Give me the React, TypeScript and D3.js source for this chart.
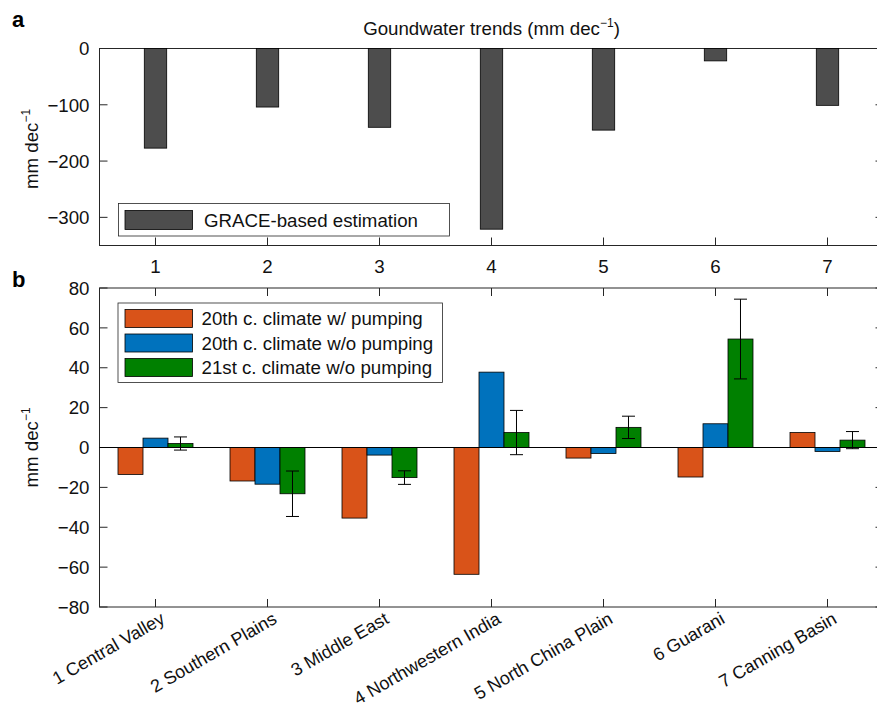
import React, { useEffect, useRef } from 'react'
import * as d3 from 'd3'

const regionIds = [1, 2, 3, 4, 5, 6, 7]
const regionNames = [
  '1 Central Valley',
  '2 Southern Plains',
  '3 Middle East',
  '4 Northwestern India',
  '5 North China Plain',
  '6 Guarani',
  '7 Canning Basin',
]
const graceTrend = [-177, -104, -140, -321, -145, -22, -101]
const pumping20th = [-13.5, -16.8, -35.4, -63.6, -5.3, -14.8, 7.5]
const noPumping20th = [4.7, -18.4, -3.8, 37.8, -3.0, 11.9, -2.0]
const noPumping21st = [2.0, -23.2, -15.1, 7.5, 10.1, 54.4, 3.7]
const noPumping21stErr = [3.3, 11.4, 3.4, 11.1, 5.6, 20.0, 4.3]
const topTicks = [0, -100, -200, -300]
const bottomTicks = [80, 60, 40, 20, 0, -20, -40, -60, -80]
const seriesNames = ['20th c. climate w/ pumping', '20th c. climate w/o pumping', '21st c. climate w/o pumping']
const seriesColors = ['#D95319', '#0072BD', '#008000']

const FONT = '"Liberation Sans", Arial, Helvetica, sans-serif'
const FS = 18.7
const AXIS = '#262626'

const App = () => {
  const ref = useRef<SVGSVGElement>(null)

  useEffect(() => {
    const svg = d3.select(ref.current)
    svg.selectAll('*').remove()

    const left = 99.5
    const right = 883.5
    const x = d3.scaleLinear().domain([0.5, 7.5]).range([left, right])

    // axes box, inward ticks, y tick labels (drawn under the bars, like matlab)
    const frame = (g, yTop, yBot, ticksY, yScale) => {
      g.append('rect')
        .attr('x', left)
        .attr('y', yTop)
        .attr('width', right - left)
        .attr('height', yBot - yTop)
        .attr('fill', 'none')
        .attr('stroke', AXIS)
        .attr('stroke-width', 1)
      regionIds.forEach((r) => {
        g.append('line').attr('x1', x(r)).attr('x2', x(r)).attr('y1', yBot).attr('y2', yBot - 8).attr('stroke', AXIS)
        g.append('line').attr('x1', x(r)).attr('x2', x(r)).attr('y1', yTop).attr('y2', yTop + 8).attr('stroke', AXIS)
      })
      ticksY.forEach((t) => {
        g.append('line').attr('x1', left).attr('x2', left + 8).attr('y1', yScale(t)).attr('y2', yScale(t)).attr('stroke', AXIS)
        g.append('line').attr('x1', right).attr('x2', right - 8).attr('y1', yScale(t)).attr('y2', yScale(t)).attr('stroke', AXIS)
        g.append('text')
          .attr('x', left - 10)
          .attr('y', yScale(t))
          .attr('dy', '0.36em')
          .attr('text-anchor', 'end')
          .attr('font-family', FONT)
          .attr('font-size', FS)
          .attr('fill', '#111')
          .text(t < 0 ? '\u2212' + Math.abs(t) : String(t))
      })
    }

    const yLabel = (cy) => {
      const t = svg.append('text')
        .attr('transform', `translate(37.5,${cy}) rotate(-90)`)
        .attr('text-anchor', 'middle')
        .attr('font-family', FONT)
        .attr('font-size', FS)
        .attr('fill', '#111')
      t.append('tspan').text('mm dec')
      t.append('tspan').attr('font-size', 12).attr('dy', -8).text('\u22121')
    }

    // ---------- panel a ----------
    const yA = d3.scaleLinear().domain([-350, 0]).range([245.5, 48.5])
    const a = svg.append('g')

    frame(a, 48.5, 245.5, topTicks, yA)

    a.selectAll('rect.grace')
      .data(graceTrend)
      .enter()
      .append('rect')
      .attr('x', (d, i) => x(regionIds[i] - 0.1))
      .attr('width', x(1.1) - x(0.9))
      .attr('y', yA(0))
      .attr('height', (d) => yA(d) - yA(0))
      .attr('fill', '#4D4D4D')
      .attr('stroke', '#000')
      .attr('stroke-width', 0.8)

    regionIds.forEach((r) => {
      a.append('text')
        .attr('x', x(r))
        .attr('y', 272.5)
        .attr('text-anchor', 'middle')
        .attr('font-family', FONT)
        .attr('font-size', FS)
        .attr('fill', '#111')
        .text(String(r))
    })

    // legend a
    a.append('rect').attr('x', 118.5).attr('y', 203.5).attr('width', 331).attr('height', 32.5)
      .attr('fill', '#fff').attr('stroke', AXIS).attr('stroke-width', 0.8)
    a.append('rect').attr('x', 125).attr('y', 210.5).attr('width', 67.5).attr('height', 19)
      .attr('fill', '#4D4D4D').attr('stroke', '#000').attr('stroke-width', 0.8)
    a.append('text').attr('x', 204).attr('y', 226.5).attr('font-family', FONT).attr('font-size', FS)
      .attr('fill', '#111').text('GRACE-based estimation')

    // title
    const title = a.append('text').attr('x', 491.5).attr('y', 35).attr('text-anchor', 'middle')
      .attr('font-family', FONT).attr('font-size', FS).attr('fill', '#111')
    title.append('tspan').text('Goundwater trends (mm dec')
    title.append('tspan').attr('font-size', 12).attr('dy', -8).text('\u22121')
    title.append('tspan').attr('dy', 8).text(')')

    yLabel(149)

    svg.append('text').attr('x', 12).attr('y', 27).attr('font-family', FONT).attr('font-weight', 'bold')
      .attr('font-size', 22).attr('fill', '#000').text('a')

    // ---------- panel b ----------
    const yB = d3.scaleLinear().domain([-80, 80]).range([607, 288])
    const b = svg.append('g')
    const series = [pumping20th, noPumping20th, noPumping21st]
    const bw = 0.2232

    frame(b, 288, 607, bottomTicks, yB)

    series.forEach((vals, s) => {
      b.selectAll(`rect.s${s}`)
        .data(vals)
        .enter()
        .append('rect')
        .attr('x', (d, i) => x(regionIds[i] + (s - 1) * bw - bw / 2))
        .attr('width', x(0.5 + bw) - x(0.5))
        .attr('y', (d) => yB(Math.max(0, d)))
        .attr('height', (d) => Math.abs(yB(d) - yB(0)))
        .attr('fill', seriesColors[s])
        .attr('stroke', '#000')
        .attr('stroke-width', 0.8)
    })

    b.append('line').attr('x1', left).attr('x2', right).attr('y1', yB(0)).attr('y2', yB(0))
      .attr('stroke', '#000').attr('stroke-width', 1)

    noPumping21st.forEach((v, i) => {
      const cx = x(regionIds[i] + bw)
      const e = noPumping21stErr[i]
      b.append('line').attr('x1', cx).attr('x2', cx).attr('y1', yB(v + e)).attr('y2', yB(v - e)).attr('stroke', '#000')
      ;[v + e, v - e].forEach((yy) => {
        b.append('line').attr('x1', cx - 6.5).attr('x2', cx + 6.5).attr('y1', yB(yy)).attr('y2', yB(yy)).attr('stroke', '#000')
      })
    })

    regionNames.forEach((name, i) => {
      b.append('text')
        .attr('transform', `translate(${x(regionIds[i]) + 4},${611}) rotate(-30)`)
        .attr('dy', '0.72em')
        .attr('text-anchor', 'end')
        .attr('font-family', FONT)
        .attr('font-size', 18)
        .attr('fill', '#111')
        .text(name)
    })

    // legend b
    b.append('rect').attr('x', 118).attr('y', 303).attr('width', 324.5).attr('height', 79.5)
      .attr('fill', '#fff').attr('stroke', AXIS).attr('stroke-width', 0.8)
    const rowTop = [309.5, 334, 358.5]
    seriesNames.forEach((n, s) => {
      b.append('rect').attr('x', 125).attr('y', rowTop[s]).attr('width', 67.5).attr('height', 18)
        .attr('fill', seriesColors[s]).attr('stroke', '#000').attr('stroke-width', 0.8)
      b.append('text').attr('x', 201.5).attr('y', rowTop[s] + 15.5).attr('font-family', FONT)
        .attr('font-size', FS).attr('fill', '#111').text(n)
    })

    yLabel(447.5)

    svg.append('text').attr('x', 12).attr('y', 287).attr('font-family', FONT).attr('font-weight', 'bold')
      .attr('font-size', 22).attr('fill', '#000').text('b')
  })

  return (
    <svg
      ref={ref}
      width={877}
      height={708}
      style={{ position: 'absolute', left: 0, top: 0, background: '#fff' }}
    />
  )
}

export default App
